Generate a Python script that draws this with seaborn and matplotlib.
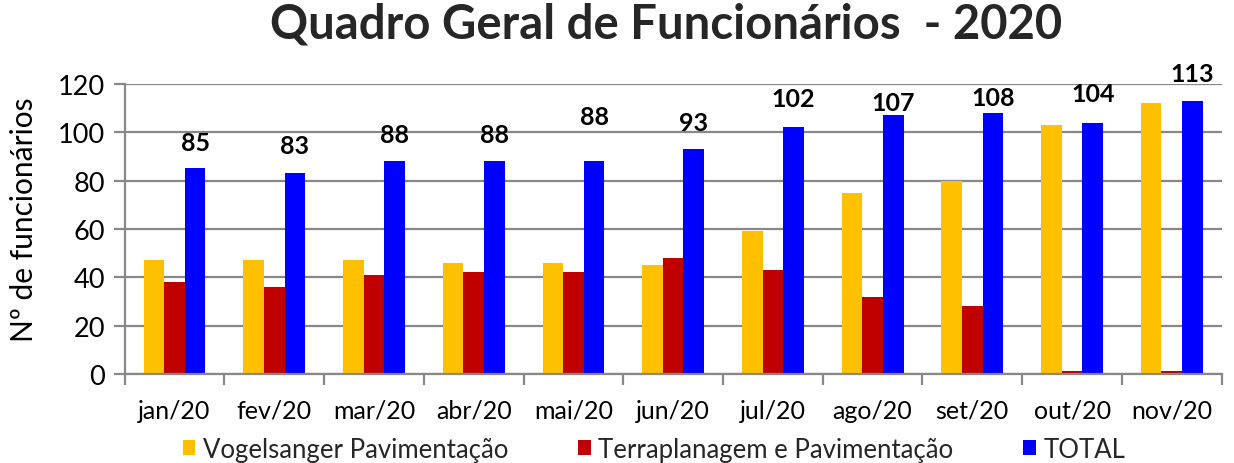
import matplotlib
matplotlib.use("Agg")
import matplotlib.pyplot as plt
import seaborn as sns
import pandas as pd
import numpy as np

months = ["jan/20", "fev/20", "mar/20", "abr/20", "mai/20", "jun/20",
          "jul/20", "ago/20", "set/20", "out/20", "nov/20"]
vogelsanger = [47, 47, 47, 46, 46, 45, 59, 75, 80, 103, 112]
terraplanagem = [38, 36, 41, 42, 42, 48, 43, 32, 28, 1, 1]
total = [85, 83, 88, 88, 88, 93, 102, 107, 108, 104, 113]
series_names = ["Vogelsanger Pavimentação", "Terraplanagem e Pavimentação", "TOTAL"]
colors = ["#FFC000", "#C00000", "#0000FF"]
# vertical offset (points) of each TOTAL label centre above its bar
label_offsets = [19, 20, 19, 19, 32, 19, 21, 9, 11, 21, 20]

df = pd.DataFrame({
    "mes": months * 3,
    "valor": vogelsanger + terraplanagem + total,
    "serie": [series_names[0]] * 11 + [series_names[1]] * 11 + [series_names[2]] * 11,
})

sns.set_theme(style="white")
plt.rcParams["font.family"] = ["Lato", "DejaVu Sans"]

fig = plt.figure(figsize=(12.34, 4.64), dpi=100)
ax = fig.add_axes([0.101, 0.192, 0.889, 0.625])

sns.barplot(data=df, x="mes", y="valor", hue="serie", palette=colors,
            hue_order=series_names, order=months, width=0.62, gap=0,
            saturation=1, ax=ax, legend=True, linewidth=0)

ax.set_ylim(0, 120)
ax.set_xlim(-0.5, 10.5)
ax.set_yticks(range(0, 121, 20))
ax.yaxis.grid(True, color="#888888", linewidth=1.6)
ax.set_axisbelow(True)
for s in ["top", "right"]:
    ax.spines[s].set_visible(False)
for s in ["left", "bottom"]:
    ax.spines[s].set_color("#888888")
    ax.spines[s].set_linewidth(1.6)

ax.tick_params(axis="y", which="major", left=True, length=8, width=1.6,
               color="#888888", labelsize=19.5, pad=6)
ax.tick_params(axis="x", which="major", bottom=False, labelsize=18, pad=12)
ax.set_xticks(np.arange(-0.5, 11, 1), minor=True)
ax.tick_params(axis="x", which="minor", bottom=True, length=8, width=1.6,
               color="#888888")
for lab in ax.get_xticklabels() + ax.get_yticklabels():
    lab.set_color("black")

ax.set_xlabel("")
ax.set_ylabel("Nº de funcionários", fontsize=21.5, color="black",
              va="center", ha="center")
ax.yaxis.set_label_coords(-0.092, 0.534)

# labels above TOTAL bars
total_container = ax.containers[2]
for bar, v, off in zip(total_container, total, label_offsets):
    ax.annotate(str(v), (bar.get_x() + bar.get_width() / 2, bar.get_height()),
                xytext=(0, off), textcoords="offset points", ha="center",
                va="center", fontsize=18, fontweight="bold", color="black",
                annotation_clip=False)

fig.suptitle("Quadro Geral de Funcionários  - 2020", fontsize=34,
             fontweight="bold", y=0.995, x=0.54)

handles, labels = ax.get_legend_handles_labels()
ax.get_legend().remove()
fig.legend(handles, labels, loc="center", bbox_to_anchor=(0.53, 0.03),
           ncol=3, frameon=False, fontsize=18.5, handlelength=0.5,
           handleheight=0.5, handletextpad=0.3, columnspacing=2.7,
           borderaxespad=0, borderpad=0)

fig.savefig("out.png", dpi=100)
